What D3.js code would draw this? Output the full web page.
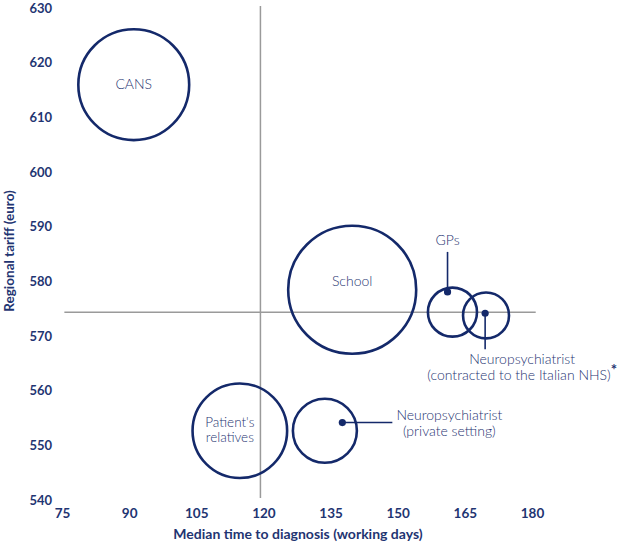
<!DOCTYPE html>
<html>
<head>
<meta charset="utf-8">
<script src="https://cdn.jsdelivr.net/npm/d3@7/dist/d3.min.js"></script>
<style>
  html, body { margin: 0; padding: 0; background: #fff; }
  svg { display: block; }
</style>
</head>
<body>
<svg id="chart" width="628" height="543"></svg>
<script>
// ---- Data ----
const categories = ["CANS", "School", "GPs", "Neuropsychiatrist NHS", "Patient's relatives", "Neuropsychiatrist private"];
const medianDays = [91.7, 140.5, 162.9, 170.4, 115.4, 134.4];
const tariff = [615.6, 578.1, 574.0, 573.4, 552.3, 552.3];
const bubbleSize = [75, 100, 14.7, 12.9, 54.6, 25];
const xTicks = [75, 90, 105, 120, 135, 150, 165, 180];
const yTicks = [540, 550, 560, 570, 580, 590, 600, 610, 620, 630];
const refX = 120;      // median time reference line
const refY = 574;      // regional tariff reference line
// annotated points (GPs, NHS neuropsychiatrist, private neuropsychiatrist)
const annotX = [161.8, 170.2, 138.3];
const annotY = [577.7, 573.8, 553.8];

const navy = "#14296a";
const textNavy = "#1f3572";
const font = "Lato, 'Open Sans', sans-serif";
const svg = d3.select("#chart");

const x = d3.scaleLinear().domain([75, 180]).range([59, 529]);
const y = d3.scaleLinear().domain([540, 630]).range([498, 6]);
const r = d3.scaleSqrt().domain([0, 100]).range([0, 64]);

// reference lines
svg.append("line")
  .attr("x1", x(refX)).attr("x2", x(refX))
  .attr("y1", y(540)).attr("y2", y(630))
  .attr("stroke", "#9a9a9a").attr("stroke-width", 1.5);
svg.append("line")
  .attr("x1", x(76.2)).attr("x2", x(181.5))
  .attr("y1", y(refY)).attr("y2", y(refY))
  .attr("stroke", "#9a9a9a").attr("stroke-width", 1.5);

// axes (labels only)
const xAxis = d3.axisBottom(x).tickValues(xTicks).tickSize(0).tickPadding(0);
const gx = svg.append("g").attr("transform", "translate(3,508)").call(xAxis);
gx.select(".domain").remove();
gx.selectAll("text")
  .attr("fill", textNavy).attr("font-family", font)
  .attr("font-weight", "bold").attr("font-size", "13.5px").attr("dy", "0.71em");

const yAxis = d3.axisLeft(y).tickValues(yTicks).tickSize(0).tickPadding(0);
const gy = svg.append("g").attr("transform", "translate(52,2)").call(yAxis);
gy.select(".domain").remove();
gy.selectAll("text")
  .attr("fill", textNavy).attr("font-family", font)
  .attr("font-weight", "bold").attr("font-size", "13px");

// axis titles
svg.append("text")
  .attr("x", 298).attr("y", 539)
  .attr("text-anchor", "middle")
  .attr("fill", textNavy).attr("font-family", font)
  .attr("font-weight", "bold").attr("font-size", "14px")
  .text("Median time to diagnosis (working days)");
svg.append("text")
  .attr("transform", "translate(14,251) rotate(-90)")
  .attr("text-anchor", "middle")
  .attr("fill", textNavy).attr("font-family", font)
  .attr("font-weight", "bold").attr("font-size", "13.5px")
  .text("Regional tariff (euro)");

// bubbles
const data = categories.map((c, i) => ({ c, x: medianDays[i], y: tariff[i], s: bubbleSize[i] }));
svg.append("g").selectAll("circle").data(data).join("circle")
  .attr("cx", d => x(d.x)).attr("cy", d => y(d.y)).attr("r", d => r(d.s))
  .attr("fill", "none").attr("stroke", navy).attr("stroke-width", 2.6);

function lbl(tx, ty, t, size) {
  return svg.append("text").attr("x", tx).attr("y", ty)
    .attr("text-anchor", "middle")
    .attr("fill", textNavy).attr("font-family", font)
    .attr("font-weight", 300).attr("font-size", (size || 14) + "px")
    .text(t);
}

// labels inside bubbles
lbl(x(medianDays[0]), y(tariff[0]) + 4, "CANS");
lbl(x(medianDays[1]), y(tariff[1]) - 4, "School");
lbl(x(medianDays[4]) - 10, y(tariff[4]) - 3.5, "Patient's", 13.5);
lbl(x(medianDays[4]) - 10, y(tariff[4]) + 11.5, "relatives", 13.5);

// annotation dots
const ann = annotX.map((v, i) => ({ x: v, y: annotY[i] }));
svg.append("g").selectAll("circle").data(ann).join("circle")
  .attr("cx", d => x(d.x)).attr("cy", d => y(d.y)).attr("r", 3.6)
  .attr("fill", navy);

// leader lines
function lead(x1, y1, x2, y2) {
  svg.append("line").attr("x1", x1).attr("y1", y1).attr("x2", x2).attr("y2", y2)
    .attr("stroke", navy).attr("stroke-width", 1.6);
}
// GPs
lead(x(annotX[0]), y(annotY[0]), x(annotX[0]), y(annotY[0]) - 40);
lbl(x(annotX[0]), y(annotY[0]) - 47, "GPs");
// NHS neuropsychiatrist
lead(x(annotX[1]), y(annotY[1]), x(annotX[1]), y(annotY[1]) + 36);
lbl(x(annotX[1]) + 37, y(annotY[1]) + 50.5, "Neuropsychiatrist");
const nhs = lbl(x(annotX[1]) + 37, y(annotY[1]) + 66.5, "(contracted to the Italian NHS)");
nhs.append("tspan")
  .attr("font-weight", "bold").attr("font-size", "15px")
  .attr("dy", "-0.3em").text("*");
// private neuropsychiatrist
lead(x(annotX[2]), y(annotY[2]), x(annotX[2]) + 50, y(annotY[2]));
lbl(x(annotX[2]) + 107, y(annotY[2]) - 2.5, "Neuropsychiatrist");
lbl(x(annotX[2]) + 107, y(annotY[2]) + 13, "(private setting)");
</script>
</body>
</html>
